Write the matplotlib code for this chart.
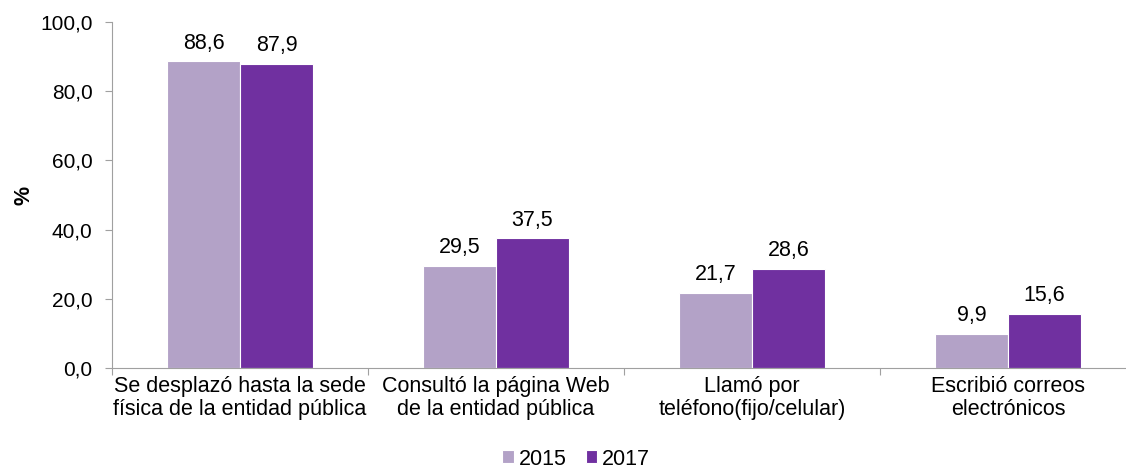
import matplotlib
matplotlib.use("Agg")
import matplotlib.pyplot as plt
import numpy as np

categories = ["Se desplazó hasta la sede\nfísica de la entidad pública",
              "Consultó la página Web\nde la entidad pública",
              "Llamó por\nteléfono(fijo/celular)",
              "Escribió correos\nelectrónicos"]
series_names = ["2015", "2017"]
v2015 = [88.6, 29.5, 21.7, 9.9]
v2017 = [87.9, 37.5, 28.6, 15.6]
yticks = [0, 20, 40, 60, 80, 100]

plt.rcParams['font.family'] = ['Liberation Sans', 'DejaVu Sans']
W, H = 1126, 469
fig = plt.figure(figsize=(W/100, H/100), dpi=100)
ax = fig.add_axes([112/W, 1-368/H, 1024/W, (368-22)/H])

fs = 15.5
x = np.arange(len(categories))
bw = 73/256
colors = ["#B3A2C7", "#7030A0"]
b1 = ax.bar(x - bw/2, v2015, bw, color=colors[0], edgecolor="white", linewidth=0.8, label=series_names[0])
b2 = ax.bar(x + bw/2, v2017, bw, color=colors[1], edgecolor="white", linewidth=0.8, label=series_names[1])
for bars in (b1, b2):
    for r in bars:
        h = r.get_height()
        ax.text(r.get_x()+r.get_width()/2, h + 2.2, f"{h:.1f}".replace(".", ","),
                ha="center", va="bottom", fontsize=fs)

ax.set_xlim(-0.5, 3.5)
ax.set_ylim(0, 100)
ax.set_yticks(yticks)
ax.set_yticklabels([f"{t:.1f}".replace(".", ",") for t in yticks], fontsize=15)
ax.set_xticks(np.arange(-0.5, 4, 1), minor=False)
ax.set_xticklabels([])
ax.set_xticks(x, minor=True)
ax.set_xticklabels(categories, minor=True, fontsize=fs, linespacing=1.1)
ax.tick_params(axis='x', which='minor', length=0, pad=6)
ax.tick_params(axis='x', which='major', length=5, color="#A0A0A0", direction='out')
ax.tick_params(axis='y', length=5, color="#A0A0A0", pad=9)
for s in ["top", "right"]:
    ax.spines[s].set_visible(False)
for s in ["left", "bottom"]:
    ax.spines[s].set_color("#A0A0A0")
ax.set_ylabel("%", fontsize=fs, fontweight="bold", labelpad=4)

fig.legend(handles=[b1, b2], labels=series_names, loc="center", bbox_to_anchor=(576/W, 1-459/H),
           ncol=2, frameon=False, fontsize=fs, handlelength=0.55, handleheight=0.55,
           handletextpad=0.2, columnspacing=0.9)
fig.savefig("out.png", dpi=100)
